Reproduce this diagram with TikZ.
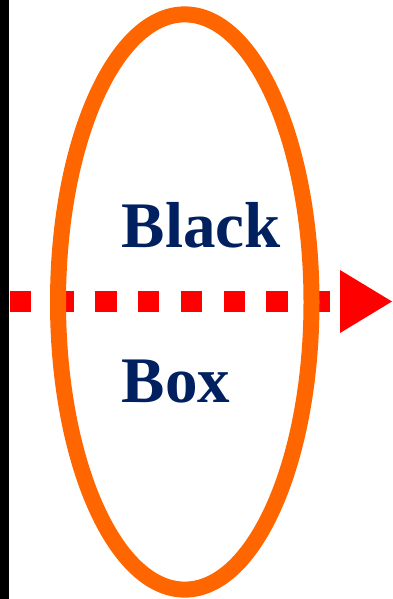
\documentclass[tikz,border=0pt]{standalone}
\usepackage{fontspec}
\setmainfont{Liberation Serif}
\usetikzlibrary{shapes.geometric}
\definecolor{ringorange}{HTML}{FF6600}
\definecolor{arrowred}{HTML}{FF0000}
\definecolor{navytext}{HTML}{002060}
\tikzset{
  label text/.style={inner sep=0pt, anchor=base west, text=navytext, font=\fontsize{65}{65}\selectfont\bfseries},
  flow line/.style={draw=arrowred, line width=21pt, dash pattern=on 21.35pt off 21.35pt, line cap=butt},
  ring/.style={draw=ringorange, line width=16pt, ellipse, minimum width=253.5pt, minimum height=575.2pt, inner sep=0pt}
}
\begin{document}
\begin{tikzpicture}[x=1pt,y=-1pt]
\useasboundingbox (0,0) rectangle (392,599);
\fill[black] (0,0) rectangle (8.7,599);
\coordinate (start) at (10,301.5);
\coordinate (stop) at (330,301.5);
\draw[flow line] (start) -- (stop);
\fill[arrowred] (340,270) -- (340,333) -- (392,301.5) -- cycle;
\node[ring] (box) at (184.75,302) {};
\node[label text] (black) at (121.5,247) {Black};
\node[label text] (boxword) at (121.5,402) {Box};
\end{tikzpicture}
\end{document}
